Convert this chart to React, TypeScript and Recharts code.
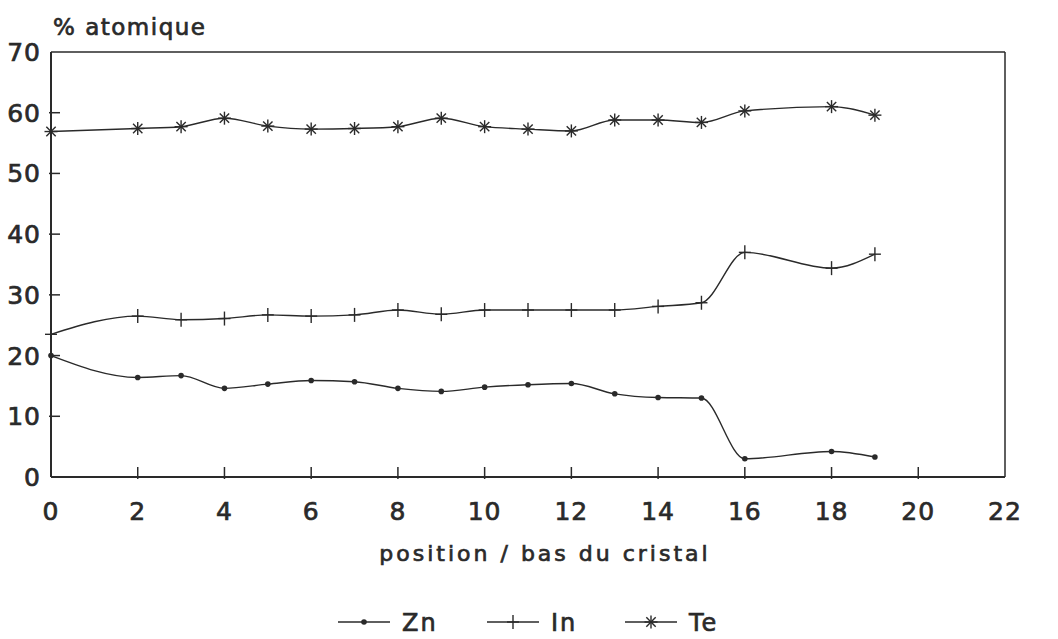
import {
  LineChart,
  Line,
  XAxis,
  YAxis,
  ReferenceLine,
} from 'recharts';

// positions le long du cristal (pas de mesure en 1 et 17)
const positions = [0, 2, 3, 4, 5, 6, 7, 8, 9, 10, 11, 12, 13, 14, 15, 16, 18, 19];
const zn = [20.0, 16.4, 16.7, 14.6, 15.3, 15.9, 15.7, 14.6, 14.1, 14.8, 15.2, 15.4, 13.7, 13.1, 13.0, 3.0, 4.2, 3.3];
const inn = [23.5, 26.5, 25.9, 26.1, 26.7, 26.5, 26.7, 27.5, 26.8, 27.5, 27.5, 27.5, 27.5, 28.1, 28.7, 37.0, 34.4, 36.7];
const te = [56.9, 57.4, 57.7, 59.1, 57.8, 57.3, 57.4, 57.7, 59.1, 57.7, 57.3, 57.0, 58.8, 58.8, 58.4, 60.3, 61.0, 59.6];

const xTicks = [0, 2, 4, 6, 8, 10, 12, 14, 16, 18, 20, 22];
const yTicks = [0, 10, 20, 30, 40, 50, 60, 70];

const data = positions.map((p, i) => ({ pos: p, Zn: zn[i], In: inn[i], Te: te[i] }));

const INK = '#2a2a2a';
const FONT = '"DejaVu Sans", sans-serif';
// un léger contour pour épaissir le texte comme sur l'original imprimé
const textInk = { fill: INK, stroke: INK, strokeWidth: 0.7 };

const DotZn = (props: any) => {
  const { cx, cy } = props;
  return <circle cx={cx} cy={cy} r={2.8} fill={INK} />;
};

const DotIn = (props: any) => {
  const { cx, cy } = props;
  return (
    <g stroke={INK} strokeWidth={1.4}>
      <line x1={cx - 6} y1={cy} x2={cx + 6} y2={cy} />
      <line x1={cx} y1={cy - 7} x2={cx} y2={cy + 7} />
    </g>
  );
};

const DotTe = (props: any) => {
  const { cx, cy } = props;
  const s = 6.5;
  const d = s * 0.72;
  return (
    <g stroke={INK} strokeWidth={1.4}>
      <line x1={cx - s} y1={cy} x2={cx + s} y2={cy} />
      <line x1={cx} y1={cy - s} x2={cx} y2={cy + s} />
      <line x1={cx - d} y1={cy - d} x2={cx + d} y2={cy + d} />
      <line x1={cx - d} y1={cy + d} x2={cx + d} y2={cy - d} />
    </g>
  );
};

const YTick = (props: any) => {
  const { x, y, payload } = props;
  return (
    <g>
      {payload.value > 0 && payload.value < 70 && (
        <line x1={x + 8} y1={y} x2={x + 19} y2={y} stroke={INK} strokeWidth={1.5} />
      )}
      <text x={x} y={y} dy={9} textAnchor="end" fontSize={25} fontFamily={FONT} {...textInk} letterSpacing={1}>
        {payload.value}
      </text>
    </g>
  );
};

const XTick = (props: any) => {
  const { x, y, payload } = props;
  return (
    <g>
      {payload.value > 0 && payload.value < 22 && (
        <line x1={x} y1={y - 8} x2={x} y2={y - 20} stroke={INK} strokeWidth={1.5} />
      )}
      <text x={x} y={y} dy={33} textAnchor="middle" fontSize={25} fontFamily={FONT} {...textInk} letterSpacing={1}>
        {payload.value}
      </text>
    </g>
  );
};

const legendItems = [
  { name: 'Zn', Dot: DotZn, x: 338 },
  { name: 'In', Dot: DotIn, x: 487 },
  { name: 'Te', Dot: DotTe, x: 625 },
];

export default function App() {
  return (
    <div style={{ position: 'absolute', left: 0, top: 0, width: 1058, height: 639, background: '#fff' }}>
      <svg width={1058} height={50} style={{ position: 'absolute', left: 0, top: 0 }}>
        <text x={53} y={35} fontSize={23} fontFamily={FONT} {...textInk} letterSpacing={1.5}>
          % atomique
        </text>
      </svg>
      <LineChart width={1058} height={600} data={data} margin={{ top: 52, right: 53, left: 0, bottom: 83 }}>
        <XAxis
          dataKey="pos"
          type="number"
          domain={[0, 22]}
          ticks={xTicks}
          interval={0}
          axisLine={{ stroke: INK, strokeWidth: 2 }}
          tickLine={false}
          tickSize={8}
          tick={<XTick />}
          height={40}
          label={{
            value: 'position / bas du cristal',
            position: 'insideBottom',
            offset: -44,
            dx: 17,
            fontSize: 22,
            fontFamily: FONT,
            ...textInk,
            letterSpacing: 3,
          }}
        />
        <YAxis
          type="number"
          domain={[0, 70]}
          ticks={yTicks}
          interval={0}
          width={51}
          axisLine={{ stroke: INK, strokeWidth: 2 }}
          tickLine={false}
          tickSize={8}
          tick={<YTick />}
        />
        <ReferenceLine y={70} stroke={INK} strokeWidth={1.5} />
        <ReferenceLine x={22} stroke={INK} strokeWidth={1.5} />
        <Line type="monotone" dataKey="Zn" stroke={INK} strokeWidth={1.4} dot={<DotZn />} isAnimationActive={false} />
        <Line type="monotone" dataKey="In" stroke={INK} strokeWidth={1.4} dot={<DotIn />} isAnimationActive={false} />
        <Line type="monotone" dataKey="Te" stroke={INK} strokeWidth={1.4} dot={<DotTe />} isAnimationActive={false} />
      </LineChart>
      <svg width={1058} height={39} style={{ position: 'absolute', left: 0, top: 600 }}>
        {legendItems.map(({ name, Dot, x }) => (
          <g key={name}>
            <line x1={x} y1={22} x2={x + 52} y2={22} stroke={INK} strokeWidth={1.4} />
            <Dot cx={x + 26} cy={22} />
            <text x={x + 64} y={31} fontSize={24} fontFamily={FONT} {...textInk} letterSpacing={2}>
              {name}
            </text>
          </g>
        ))}
      </svg>
    </div>
  );
}
